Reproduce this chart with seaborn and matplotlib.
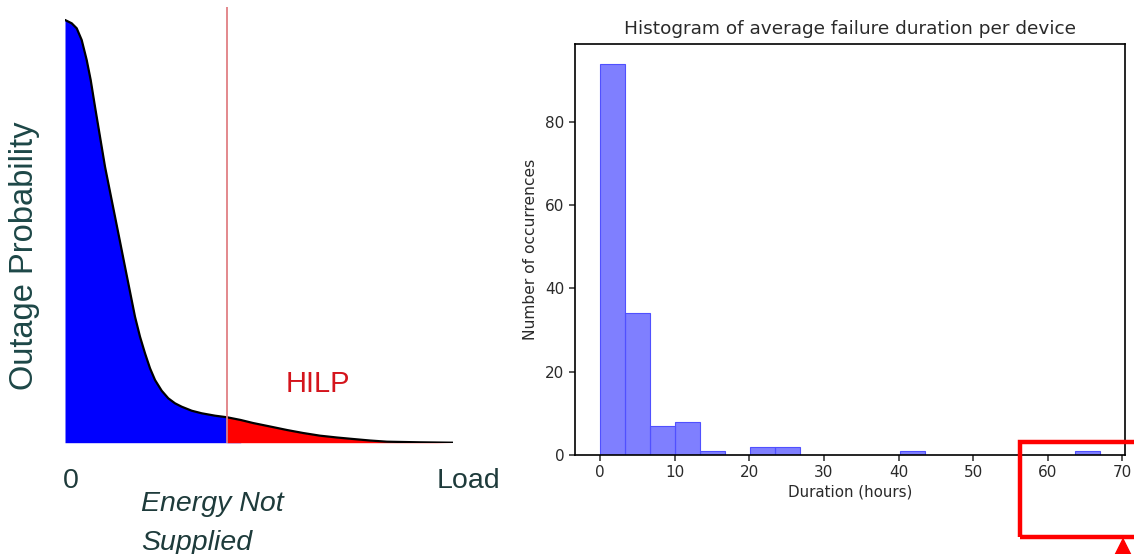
import numpy as np
import pandas as pd
import matplotlib
matplotlib.use("Agg")
import matplotlib.pyplot as plt
import matplotlib.patches as mpatches
import seaborn as sns

# ---------------- data ----------------
# Left panel: conceptual outage-probability curve (normalised load 0..1, probability 0..1)
load_x = [0.0000, 0.0173, 0.0302, 0.0430, 0.0559, 0.0662, 0.0773, 0.0902, 0.1031,
          0.1160, 0.1289, 0.1418, 0.1546, 0.1675, 0.1804, 0.1933, 0.2062, 0.2191,
          0.2320, 0.2492, 0.2662, 0.2835, 0.3008, 0.3265, 0.3523, 0.3866, 0.4180,
          0.4530, 0.4845, 0.5284, 0.5722, 0.6134, 0.6572, 0.7010, 0.7423, 0.7861,
          0.8299, 0.9149, 1.0000]
outage_p = [0.9702, 0.9626, 0.9511, 0.9243, 0.8784, 0.8325, 0.7712, 0.7023, 0.6335,
            0.5761, 0.5187, 0.4613, 0.4039, 0.3466, 0.2892, 0.2433, 0.2052, 0.1708,
            0.1439, 0.1193, 0.1019, 0.0904, 0.0826, 0.0734, 0.0675, 0.0620, 0.0583,
            0.0521, 0.0452, 0.0372, 0.0291, 0.0223, 0.0161, 0.0119, 0.0085, 0.0050,
            0.0023, 0.0009, 0.0000]
hilp_threshold = 0.418

# Right panel: histogram of average failure duration per device
bin_min, bin_max, n_bins = 0.0, 67.0, 20
counts = [94, 34, 7, 8, 1, 0, 2, 2, 0, 0, 0, 0, 1, 0, 0, 0, 0, 0, 0, 1]
x_ticks = [0, 10, 20, 30, 40, 50, 60, 70]
y_ticks = [0, 20, 40, 60, 80]

# ---------------- figure ----------------
sns.set_style("ticks")
plt.rcParams['font.family'] = ['DejaVu Sans']

W, H = 1134, 554
fig = plt.figure(figsize=(W / 100, H / 100), dpi=100)

def fx(px):
    return px / W

def fy(py):
    return 1 - py / H

# ---- left conceptual panel ----
axL = fig.add_axes([fx(65), fy(442.7), fx(453) - fx(65), fy(7) - fy(442.7)])
axL.set_xlim(0, 1)
axL.set_ylim(0, 1)
axL.axis("off")

curve = pd.DataFrame({"load": load_x, "p": outage_p})
xa = np.array(load_x)
ya = np.array(outage_p)
axL.fill_between(xa, 0, ya, where=xa <= hilp_threshold + 1e-9, color="#0000ff",
                 linewidth=0, interpolate=True)
axL.fill_between(xa, 0, ya, where=xa >= hilp_threshold - 1e-9, color="#ff0000",
                 linewidth=0, interpolate=True)
sns.lineplot(data=curve, x="load", y="p", ax=axL, color="black", linewidth=1.6,
             sort=False, legend=False)
axL.axvline(hilp_threshold, ymin=0, ymax=1, color="#e07f84", linewidth=1.3)
axL.set_xlabel("")
axL.set_ylabel("")

txt_col = "#1e3b3b"
lfont = ["Liberation Sans", "DejaVu Sans"]
fig.text(fx(25), fy(256), "Outage Probability", rotation=90, ha="center", va="center",
         fontsize=23.5, color="#1d4747", family=lfont)
fig.text(fx(63), fy(488), "0", ha="left", va="baseline", fontsize=20.5,
         color=txt_col, family=lfont)
fig.text(fx(500), fy(488), "Load", ha="right", va="baseline", fontsize=20.5,
         color=txt_col, family=lfont)
fig.text(fx(141), fy(511), "Energy Not", ha="left", va="baseline",
         fontsize=20.5, color=txt_col, style="italic", family=lfont)
fig.text(fx(141), fy(550), "Supplied", ha="left", va="baseline",
         fontsize=20.5, color=txt_col, style="italic", family=lfont)
fig.text(fx(286), fy(392), "HILP", ha="left", va="baseline", fontsize=21,
         color="#d4141c", family=lfont)

# ---- right histogram panel ----
axR = fig.add_axes([fx(575), fy(455), fx(1125) - fx(575), fy(44) - fy(455)])
edges = [float(e) for e in np.linspace(bin_min, bin_max, n_bins + 1)]
centers = [(a + b) / 2 for a, b in zip(edges[:-1], edges[1:])]
hist_df = pd.DataFrame({"duration": centers, "n": counts})
sns.histplot(data=hist_df, x="duration", weights="n", bins=edges, ax=axR,
             color="blue", alpha=0.5, edgecolor="#5050ff", linewidth=0.8)
for p in list(axR.patches):
    if p.get_height() == 0:
        p.remove()
axR.set_xlim(bin_min - 0.05 * (bin_max - bin_min), bin_max + 0.05 * (bin_max - bin_min))
axR.set_ylim(0, max(counts) * 1.05)
axR.set_xticks(x_ticks)
axR.set_yticks(y_ticks)
tick_col = "#2a2a2a"
axR.tick_params(axis="both", labelsize=11, colors=tick_col, length=4, width=1.1,
                direction="out")
for lab in axR.get_xticklabels() + axR.get_yticklabels():
    lab.set_color(tick_col)
for s in axR.spines.values():
    s.set_visible(True)
    s.set_color("black")
    s.set_linewidth(1.2)
axR.set_title("Histogram of average failure duration per device", fontsize=13.3,
              color=tick_col, pad=7)
axR.set_xlabel("Duration (hours)", fontsize=10.9, color=tick_col, labelpad=3)
axR.set_ylabel("Number of occurrences", fontsize=11.2, color=tick_col)
axR.yaxis.set_label_coords(-0.068, 0.5)

# ---- red highlight annotation ----
rect = mpatches.Rectangle((fx(1020), fy(537)), fx(1140) - fx(1020), fy(442) - fy(537),
                          transform=fig.transFigure, fill=False, edgecolor="#ff0000",
                          linewidth=3.2, joinstyle="miter", clip_on=False)
fig.patches.append(rect)
tri = mpatches.Polygon([(fx(1115), fy(555)), (fx(1131), fy(555)), (fx(1123), fy(539))],
                       closed=True, transform=fig.transFigure, color="#ff0000",
                       clip_on=False)
fig.patches.append(tri)

fig.savefig("out.png", dpi=100)
